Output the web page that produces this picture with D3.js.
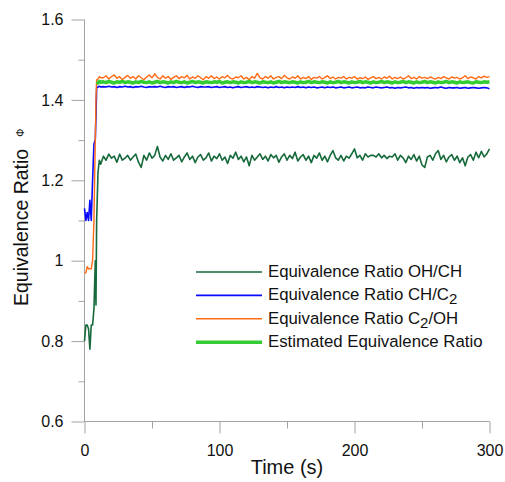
<!DOCTYPE html>
<meta charset="utf-8">
<style>
body { margin: 0; background: #fff; }
svg { display: block; font-family: "Liberation Sans", Arial, sans-serif; }
</style>
<body>
<svg id="chart" width="505" height="482"></svg>
<script src="https://d3js.org/d3.v7.min.js"></script>
<script>

// early part of the run, sampled every second (plus one extra point at 8.5 s)
var earlyTimes = [0, 1, 2, 3, 4, 5, 6, 7, 8, 8.5, 9, 10, 11, 12];
// after that, one sample every 2 s up to 300 s
var lateTimes = d3.range(14, 301, 2);
var times = earlyTimes.concat(lateTimes);

var ohch = [0.80, 0.84, 0.84, 0.83, 0.78, 0.84, 0.84, 0.88, 1.00, 0.89, 1.10, 1.22, 1.25, 1.24,
  1.260,1.250,1.265,1.255,1.260,1.245,1.265,1.250,1.255,1.262,
  1.250,1.258,1.265,1.245,1.232,1.262,1.250,1.268,1.255,1.262,
  1.284,1.258,1.248,1.262,1.252,1.266,1.250,1.256,1.262,1.246,
  1.258,1.268,1.252,1.260,1.244,1.258,1.264,1.250,1.256,1.268,
  1.248,1.260,1.254,1.266,1.250,1.258,1.242,1.262,1.255,1.270,
  1.252,1.260,1.246,1.258,1.236,1.262,1.250,1.258,1.266,1.252,
  1.260,1.248,1.264,1.256,1.262,1.245,1.258,1.266,1.250,1.262,
  1.254,1.270,1.248,1.258,1.264,1.250,1.260,1.244,1.262,1.255,
  1.268,1.250,1.260,1.246,1.262,1.274,1.256,1.250,1.262,1.248,
  1.260,1.255,1.266,1.278,1.256,1.262,1.250,1.266,1.258,1.262,
  1.262,1.258,1.266,1.256,1.262,1.254,1.260,1.258,1.266,1.250,
  1.262,1.256,1.244,1.260,1.252,1.264,1.248,1.260,1.238,1.232,
  1.258,1.262,1.250,1.266,1.274,1.252,1.262,1.246,1.258,1.264,
  1.250,1.260,1.244,1.256,1.236,1.258,1.264,1.250,1.270,1.256,
  1.272,1.258,1.266,1.278];

var chc2 = [1.13, 1.10, 1.12, 1.10, 1.15, 1.10, 1.20, 1.29, 1.30, 1.36, 1.43, 1.432, 1.434, 1.432,
  1.433,1.432,1.434,1.432,1.433,1.431,1.433,1.432,1.434,1.432,
  1.433,1.431,1.433,1.432,1.434,1.432,1.431,1.433,1.432,1.433,
  1.432,1.434,1.432,1.431,1.433,1.432,1.433,1.431,1.432,1.433,
  1.431,1.433,1.432,1.434,1.432,1.431,1.433,1.432,1.432,1.433,
  1.431,1.432,1.433,1.431,1.432,1.433,1.431,1.432,1.430,1.432,
  1.433,1.431,1.432,1.433,1.431,1.432,1.431,1.433,1.432,1.431,
  1.432,1.430,1.432,1.431,1.433,1.431,1.432,1.430,1.432,1.431,
  1.432,1.431,1.433,1.431,1.432,1.430,1.432,1.431,1.432,1.430,
  1.431,1.432,1.430,1.432,1.431,1.432,1.430,1.431,1.432,1.430,
  1.431,1.432,1.430,1.431,1.432,1.430,1.431,1.430,1.432,1.431,
  1.430,1.432,1.431,1.430,1.431,1.432,1.430,1.431,1.429,1.431,
  1.430,1.431,1.432,1.430,1.431,1.429,1.431,1.430,1.431,1.430,
  1.431,1.429,1.430,1.431,1.430,1.432,1.430,1.429,1.431,1.430,
  1.430,1.431,1.429,1.430,1.431,1.429,1.430,1.431,1.430,1.429,
  1.430,1.431,1.430,1.428];

var c2oh = [0.97, 0.97, 0.985, 0.98, 0.98, 0.98, 1.00, 1.10, 1.30, 1.40, 1.45, 1.452, 1.458, 1.455,
  1.455,1.460,1.452,1.458,1.462,1.454,1.458,1.450,1.456,1.461,
  1.454,1.458,1.452,1.460,1.455,1.450,1.457,1.462,1.455,1.465,
  1.456,1.452,1.460,1.454,1.458,1.451,1.456,1.460,1.453,1.458,
  1.455,1.461,1.452,1.457,1.454,1.460,1.455,1.450,1.458,1.454,
  1.460,1.453,1.457,1.452,1.458,1.455,1.461,1.454,1.452,1.457,
  1.455,1.460,1.452,1.456,1.450,1.458,1.454,1.466,1.455,1.452,
  1.458,1.454,1.460,1.452,1.456,1.458,1.453,1.461,1.455,1.452,
  1.457,1.454,1.460,1.452,1.456,1.453,1.458,1.451,1.456,1.454,
  1.458,1.452,1.456,1.460,1.453,1.457,1.452,1.456,1.454,1.458,
  1.452,1.456,1.454,1.458,1.452,1.455,1.453,1.457,1.451,1.455,
  1.458,1.453,1.456,1.452,1.457,1.454,1.459,1.452,1.456,1.453,
  1.457,1.452,1.455,1.460,1.453,1.456,1.452,1.458,1.454,1.456,
  1.453,1.457,1.454,1.452,1.456,1.453,1.458,1.455,1.452,1.457,
  1.454,1.456,1.452,1.455,1.460,1.453,1.457,1.455,1.452,1.458,
  1.455,1.459,1.456,1.458];

var estimated = [null, null, null, null, null, null, null, null, null, null, 1.440, 1.442, 1.446, 1.444,
  1.445,1.443,1.446,1.444,1.442,1.445,1.444,1.446,1.443,1.445,
  1.444,1.442,1.445,1.443,1.446,1.444,1.443,1.445,1.442,1.444,
  1.446,1.443,1.445,1.444,1.442,1.445,1.443,1.446,1.444,1.443,
  1.445,1.442,1.444,1.446,1.443,1.445,1.444,1.442,1.445,1.444,
  1.443,1.445,1.444,1.446,1.442,1.444,1.445,1.443,1.445,1.444,
  1.442,1.445,1.443,1.444,1.446,1.443,1.445,1.444,1.442,1.445,
  1.444,1.443,1.445,1.442,1.444,1.446,1.443,1.445,1.444,1.443,
  1.445,1.444,1.442,1.445,1.443,1.444,1.446,1.443,1.445,1.444,
  1.443,1.445,1.444,1.442,1.445,1.443,1.444,1.446,1.443,1.445,
  1.444,1.442,1.445,1.443,1.444,1.446,1.443,1.445,1.444,1.442,
  1.445,1.443,1.444,1.446,1.443,1.445,1.444,1.442,1.445,1.443,
  1.444,1.446,1.443,1.445,1.444,1.442,1.445,1.443,1.444,1.446,
  1.443,1.445,1.444,1.442,1.445,1.443,1.444,1.446,1.443,1.445,
  1.444,1.442,1.445,1.443,1.444,1.445,1.443,1.442,1.445,1.444,
  1.443,1.445,1.444,1.445];

var xMajor = [0, 100, 200, 300],
    xMinor = [50, 150, 250],
    yMajor = [0.6, 0.8, 1.0, 1.2, 1.4, 1.6],
    yMinor = [0.7, 0.9, 1.1, 1.3, 1.5];

var series = [
  {name: ["Equivalence Ratio OH/CH"], values: ohch, color: "#16693a", width: 1.6},
  {name: ["Equivalence Ratio CH/C", "2"], values: chc2, color: "#0a0aff", width: 1.6},
  {name: ["Equivalence Ratio C", "2", "/OH"], values: c2oh, color: "#ff6a14", width: 1.4},
  {name: ["Estimated Equivalence Ratio"], values: estimated, color: "#33cc33", width: 3.5}
];

var svg = d3.select("#chart");
var axisColor = "#a3a3a3";

var x = d3.scaleLinear().domain([0, 300]).range([84.5, 489.5]);
var y = d3.scaleLinear().domain([0.6, 1.6]).range([421.5, 19.5]);

// y axis
var yAxis = svg.append("g").attr("transform", "translate(84.5,0)")
  .call(d3.axisLeft(y).tickValues(yMajor).tickSize(13).tickPadding(8)
    .tickFormat(function(d) { return String(+d.toFixed(1)); }));
svg.append("g").attr("transform", "translate(84.5,0)")
  .call(d3.axisLeft(y).tickValues(yMinor).tickSize(6).tickFormat(""))
  .select(".domain").remove();

// x axis
var xAxis = svg.append("g").attr("transform", "translate(0,421.5)")
  .call(d3.axisBottom(x).tickValues(xMajor).tickSize(12).tickPadding(11.5));
svg.append("g").attr("transform", "translate(0,421.5)")
  .call(d3.axisBottom(x).tickValues(xMinor).tickSize(7).tickFormat(""))
  .select(".domain").remove();

svg.selectAll(".domain").attr("d", null).remove();
svg.append("line").attr("x1", 84.5).attr("x2", 84.5).attr("y1", y(1.6)).attr("y2", y(0.6))
  .attr("stroke", axisColor);
svg.append("line").attr("x1", 84.5).attr("x2", x(300)).attr("y1", y(0.6)).attr("y2", y(0.6))
  .attr("stroke", axisColor);

svg.selectAll(".tick line").attr("stroke", axisColor);
svg.selectAll(".tick text").attr("font-size", 16).attr("fill", "#111")
  .attr("font-family", "Liberation Sans, Arial, sans-serif");

// lines
var line = d3.line()
  .defined(function(d) { return d[1] != null; })
  .x(function(d) { return x(d[0]); })
  .y(function(d) { return y(d[1]); });

series.forEach(function(s) {
  svg.append("path")
    .datum(times.map(function(t, i) { return [t, s.values[i]]; }))
    .attr("fill", "none")
    .attr("stroke", s.color)
    .attr("stroke-width", s.width)
    .attr("stroke-linejoin", "round")
    .attr("d", line);
});

// axis titles
svg.append("text").attr("x", 287).attr("y", 474).attr("text-anchor", "middle")
  .attr("font-size", 20).attr("fill", "#111").text("Time (s)");

var yt = svg.append("text").attr("transform", "translate(28,306) rotate(-90)")
  .attr("font-size", 19.5).attr("fill", "#111");
yt.append("tspan").text("Equivalence Ratio");
yt.append("tspan").attr("dx", 12).attr("dy", -4).attr("font-size", 10).text("Φ");

// legend
var legend = svg.append("g");
series.forEach(function(s, i) {
  var base = 277 + i * 23.4;
  legend.append("line").attr("x1", 196).attr("x2", 262)
    .attr("y1", base - 5).attr("y2", base - 5)
    .attr("stroke", s.color).attr("stroke-width", s.width);
  var t = legend.append("text").attr("x", 268).attr("y", base)
    .attr("font-size", 16.8).attr("fill", "#111");
  s.name.forEach(function(part, j) {
    if (part === "2") {
      t.append("tspan").attr("dy", 4).attr("font-size", 15).text(part);
    } else if (j > 0) {
      t.append("tspan").attr("dy", -4).text(part);
    } else {
      t.append("tspan").text(part);
    }
  });
});

</script>
</body>
